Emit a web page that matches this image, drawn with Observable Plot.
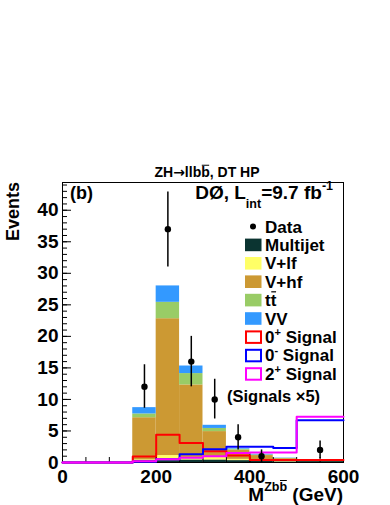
<!DOCTYPE html>
<html><head><meta charset="utf-8">
<script src="https://cdn.jsdelivr.net/npm/d3@7"></script>
<script src="https://cdn.jsdelivr.net/npm/@observablehq/plot@0.6"></script>
<style>
body{margin:0;background:#fff;}
#wrap{position:relative;width:390px;height:505px;}
</style></head>
<body><div id="wrap"></div>
<script>
// ---- data ----
const edges = [0, 50, 100, 150, 200, 250, 300, 350, 400, 450, 500, 600];
const components = ["Multijet", "V+lf", "V+hf", "tt", "VV"];
const compColors = ["#0b3431", "#ffff66", "#cc9933", "#99cc66", "#3399ff"];
const multijet = [0, 0, 0, 0.3, 0.3, 0.4, 0.4, 0.3, 0.2, 0.1, 0.15];
const vlf      = [0, 0, 0, 0.1, 0.8, 0.4, 0.4, 0.2, 0.1, 0.05, 0.05];
const vhf      = [0, 0, 0, 6.7, 21.7, 11.5, 4.1, 1.45, 0.8, 0.45, 0.05];
const ttbar    = [0, 0, 0, 0.6, 2.6, 1.8, 0.5, 0.15, 0.1, 0.05, 0.03];
const vv       = [0, 0, 0, 1.0, 2.6, 1.2, 0.5, 0.1, 0.1, 0.05, 0.02];
const sig0p = [0, 0, 0, 0.95, 4.4, 3.1, 1.8, 1.1, 0.4, 0.4, 0.4];
const sig0m = [0, 0, 0, 0.1, 0.5, 1.3, 2.1, 2.5, 2.5, 2.3, 6.7];
const sig2p = [0, 0, 0, 0.2, 0.5, 0.75, 1.0, 1.5, 1.6, 1.6, 7.25];
const dataX  = [175, 225, 275, 325, 375, 425, 550];
const dataY  = [12, 37, 16, 10, 4, 1, 2];
const dataLo = [8.6, 31.0, 12.0, 6.9, 2.0, 0.0, 0.6];
const dataHi = [15.5, 42.9, 20.0, 13.2, 6.0, 2.0, 3.4];
const xMajor = [0, 200, 400, 600];
const yMajor = [0, 5, 10, 15, 20, 25, 30, 35, 40];

// ---- tables ----
const series = [multijet, vlf, vhf, ttbar, vv];
const stackRows = [];
components.forEach((c, ci) => series[ci].forEach((v, i) =>
  stackRows.push({comp: c, x1: edges[i], x2: edges[i + 1], v})));
const stepPts = vals => vals.map((v, i) => ({x: edges[i], y: v}))
  .concat([{x: edges[edges.length - 1], y: vals[vals.length - 1]}]);
const pts = dataX.map((x, i) => ({x, y: dataY[i], lo: dataLo[i], hi: dataHi[i]}));

const FONT = '"Liberation Sans", Arial, Helvetica, sans-serif';

const chart = Plot.plot({
  width: 390, height: 505,
  marginTop: 182, marginBottom: 43, marginLeft: 62, marginRight: 47,
  style: {fontFamily: FONT, fontWeight: "bold", fontSize: "19px", background: "white", color: "#000"},
  x: {domain: [0, 600]},
  y: {domain: [0, 44.4]},
  color: {domain: components, range: compColors},
  marks: [
    Plot.rectY(stackRows, {x1: "x1", x2: "x2", y: "v", fill: "comp"}),
    Plot.frame({stroke: "#000", strokeWidth: 1}),
    Plot.axisX({ticks: d3.range(0, 601, 50), tickSize: -5, tickFormat: () => "", label: null}),
    Plot.axisX({ticks: xMajor, tickSize: -9, tickPadding: 16, tickFormat: d => String(d), label: null}),
    Plot.axisY({ticks: d3.range(0, 45, 1), tickSize: -5, tickFormat: () => "", label: null}),
    Plot.axisY({ticks: yMajor, tickSize: -9, tickPadding: 13, tickFormat: d => String(d), label: null}),
    Plot.line(stepPts(sig0p), {x: "x", y: "y", curve: "step-after", stroke: "#ff0000", strokeWidth: 2}),
    Plot.line(stepPts(sig0m), {x: "x", y: "y", curve: "step-after", stroke: "#0000ff", strokeWidth: 2}),
    Plot.line(stepPts(sig2p), {x: "x", y: "y", curve: "step-after", stroke: "#ff00ff", strokeWidth: 2}),
    Plot.ruleX(pts, {x: "x", y1: "lo", y2: "hi", stroke: "#000", strokeWidth: 1.5}),
    Plot.dot(pts, {x: "x", y: "y", r: 3.2, fill: "#000"})
  ]
});
document.getElementById("wrap").appendChild(chart);

// ---- annotation texts (as SVG text) ----
const svg = d3.select(chart);
function addText(x, y, parts, size, anchor = "start", rotate = 0) {
  const t = svg.append("text").attr("x", x).attr("y", y)
    .attr("text-anchor", anchor).attr("font-size", size)
    .attr("font-weight", "bold").attr("font-family", FONT).attr("fill", "#000");
  if (rotate) t.attr("transform", `rotate(${rotate},${x},${y})`);
  let shift = 0;
  const overs = [];
  for (const p of parts) {
    const s = typeof p === "string" ? {t: p} : p;
    const ts = t.append("tspan").text(s.t);
    const target = s.dy || 0;
    if (target !== shift) { ts.attr("dy", target - shift); shift = target; }
    if (s.size) ts.attr("font-size", s.size);
    if (s.family) ts.attr("font-family", s.family);
    if (s.over) overs.push({ts, base: y + target, size: s.size || size});
  }
  for (const o of overs) {
    const b = o.ts.node().getBBox();
    const oy = o.base - 0.84 * o.size;
    svg.append("line").attr("x1", b.x + 0.6).attr("x2", b.x + b.width - 0.6)
      .attr("y1", oy).attr("y2", oy).attr("stroke", "#000")
      .attr("stroke-width", Math.max(1, o.size / 14));
  }
  return t;
}
addText(207, 177, ["ZH", {t: "\u2192", family: '"DejaVu Sans", sans-serif', size: 14}, "llb", {t: "b", over: true}, ", DT HP"], 14, "middle");
addText(18.5, 182, ["Events"], 18, "end", -90);
addText(70, 199, ["(b)"], 18);
addText(333, 199, ["D\u00D8, L", {t: "int", size: 12.5, dy: 9}, {t: "=9.7 fb", dy: 0}, {t: "-1", size: 12.5, dy: -9}], 19, "end");
addText(343, 501, ["M", {t: "Zb", size: 12.5, dy: -10}, {t: "b", size: 12.5, dy: -10, over: true}, {t: " (GeV)", dy: 0}], 19, "end");

// legend
const legRows = [
  {label: ["Data"], kind: "dot"},
  {label: ["Multijet"], fill: compColors[0]},
  {label: ["V+lf"], fill: compColors[1]},
  {label: ["V+hf"], fill: compColors[2]},
  {label: ["t", {t: "t", over: true}], fill: compColors[3]},
  {label: ["VV"], fill: compColors[4]},
  {label: ["0", {t: "+", size: 11, dy: -7}, {t: " Signal", dy: 0}], stroke: "#ff0000"},
  {label: ["0", {t: "-", size: 11, dy: -7}, {t: " Signal", dy: 0}], stroke: "#0000ff"},
  {label: ["2", {t: "+", size: 11, dy: -7}, {t: " Signal", dy: 0}], stroke: "#ff00ff"}
];
legRows.forEach((r, i) => {
  const cy = 226.5 + i * 18.4;
  if (r.kind === "dot") {
    svg.append("circle").attr("cx", 253).attr("cy", cy).attr("r", 3).attr("fill", "#000");
  } else if (r.fill) {
    svg.append("rect").attr("x", 245).attr("y", cy - 6.3).attr("width", 16.5).attr("height", 12.6).attr("fill", r.fill);
  } else {
    svg.append("rect").attr("x", 246).attr("y", cy - 5.5).attr("width", 15).attr("height", 11.5)
      .attr("fill", "none").attr("stroke", r.stroke).attr("stroke-width", 2);
  }
  addText(265, cy + 6, r.label, 17);
});
addText(227, 402, ["(Signals \u00D75)"], 16.5);
</script>
</body></html>
